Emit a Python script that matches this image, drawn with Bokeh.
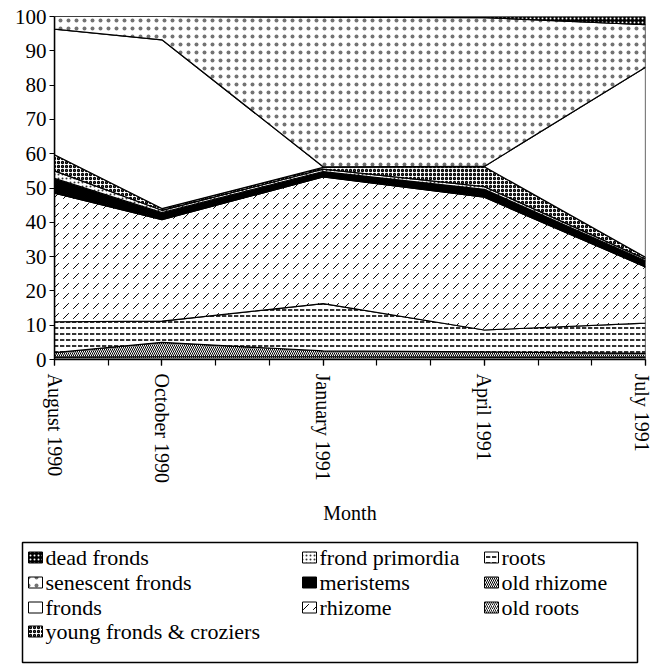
import numpy as np
from bokeh.plotting import figure
from bokeh.models import Range1d, FixedTicker, Label
from bokeh.embed import file_html
from bokeh.resources import INLINE

# ---- data ----
months = [0, 2, 5, 8, 11]          # months after August 1990
month_labels = ["August 1990", "October 1990", "January 1991", "April 1991", "July 1991"]
all_months = list(range(12))
y_ticks = list(range(0, 101, 10))

old_roots       = [0.7, 0.8, 0.8, 0.7, 0.7]
old_rhizome     = [1.3, 4.2, 1.7, 1.5, 1.1]
roots           = [9.0, 6.2, 13.8, 6.4, 8.8]
rhizome         = [37.5, 29.6, 36.9, 38.7, 16.4]
meristems       = [4.3, 2.0, 1.6, 2.3, 1.8]
frond_primordia = [2.2, 0.7, 0.7, 0.8, 0.5]
young_fronds    = [4.7, 0.5, 0.5, 5.8, 0.5]
fronds          = [36.6, 49.2, 0.2, 0.1, 55.4]
senescent       = [3.7, 6.8, 43.6, 43.4, 12.4]
dead_fronds     = [0.0, 0.0, 0.2, 0.3, 2.4]

stack_names = ["old roots", "old rhizome", "roots", "rhizome", "meristems",
               "frond primordia", "young fronds & croziers", "fronds",
               "senescent fronds", "dead fronds"]
stack_values = [old_roots, old_rhizome, roots, rhizome, meristems,
                frond_primordia, young_fronds, fronds, senescent, dead_fronds]

legend_columns = [
    ["dead fronds", "senescent fronds", "fronds", "young fronds & croziers"],
    ["frond primordia", "meristems", "rhizome"],
    ["roots", "old rhizome", "old roots"],
]

# ---- styles ----
styles = {
    "old roots":   dict(fill_color="white", hatch_pattern="right_diagonal_line", hatch_color="black", hatch_scale=4, hatch_weight=0.9),
    "old rhizome": dict(fill_color="white", hatch_pattern="left_diagonal_line", hatch_color="black", hatch_scale=4, hatch_weight=1.0),
    "roots":       dict(fill_color="white", hatch_pattern="horizontal_dash", hatch_color="black", hatch_scale=6, hatch_weight=1.6),
    "rhizome":     dict(fill_color="white", hatch_pattern="right_diagonal_dash", hatch_color="black", hatch_scale=10, hatch_weight=1.0),
    "meristems":   dict(fill_color="black"),
    "frond primordia": dict(fill_color="white", hatch_pattern="dot", hatch_color="black", hatch_scale=4, hatch_weight=0.8, hatch_alpha=0.8),
    "young fronds & croziers": dict(fill_color="white", hatch_pattern="ring", hatch_color="black", hatch_scale=4, hatch_weight=1.3),
    "fronds":      dict(fill_color="white"),
    "senescent fronds": dict(fill_color="white", hatch_pattern="dot", hatch_color="black", hatch_scale=8, hatch_weight=0.8, hatch_alpha=0.55),
    "dead fronds": dict(fill_color="black", hatch_pattern="dot", hatch_color="white", hatch_scale=4, hatch_weight=1.2),
}

FONT = "Liberation Serif"

p = figure(width=652, height=541, x_range=Range1d(0, 11), y_range=Range1d(0, 100),
           output_backend="svg", toolbar_location=None,
           min_border_left=54, min_border_right=7, min_border_top=16, min_border_bottom=182)
p.outline_line_color = None
p.grid.visible = False

base = np.zeros(len(months))
for name, vals in zip(stack_names, stack_values):
    top = base + np.array(vals)
    xs = list(months) + list(months[::-1])
    ys = list(top) + list(base[::-1])
    p.patch(xs, ys, line_color="black", line_width=1.2, line_join="round", **styles[name])
    base = top

# axes
xa = p.xaxis[0]
xa.ticker = FixedTicker(ticks=months, minor_ticks=all_months)
xa.major_label_overrides = {m: lab for m, lab in zip(months, month_labels)}
xa.major_label_orientation = -np.pi / 2
xa.axis_label = "Month"
ya = p.yaxis[0]
ya.ticker = FixedTicker(ticks=y_ticks)
for ax in (xa, ya):
    ax.axis_line_color = "black"
    ax.axis_line_width = 1.5
    ax.major_tick_line_color = "black"
    ax.minor_tick_line_color = "black"
    ax.major_tick_line_width = 1.2
    ax.minor_tick_line_width = 1.2
    ax.major_label_text_font = FONT
    ax.major_label_text_color = "black"
    ax.axis_label_text_font = FONT
    ax.axis_label_text_font_size = "20px"
    ax.axis_label_text_font_style = "normal"
    ax.axis_label_text_color = "black"
xa.major_label_text_font_size = "20px"
ya.major_label_text_font_size = "21px"
xa.major_tick_in = 0
xa.major_tick_out = 6
xa.minor_tick_in = 0
xa.minor_tick_out = 6
xa.major_label_standoff = 8
xa.axis_label_standoff = 16
ya.major_tick_in = 0
ya.major_tick_out = 5
ya.minor_tick_out = 0
ya.minor_tick_in = 0
ya.major_label_standoff = 3

# ---- legend panel (separate root, frame = legend box) ----
LW, LH = 615, 120
lg = figure(width=652, height=125, x_range=Range1d(0, LW), y_range=Range1d(LH, 0),
            output_backend="svg", toolbar_location=None,
            x_axis_location=None, y_axis_location=None,
            min_border_left=22, min_border_right=15, min_border_top=1, min_border_bottom=4)
lg.grid.visible = False
lg.outline_line_color = "black"
lg.outline_line_width = 1.5

col_x = [6, 280, 462]
row_y = [15, 40, 65, 89]
for cx, names in zip(col_x, legend_columns):
    for ry, name in zip(row_y, names):
        lg.rect(x=[cx + 7], y=[ry], width=14, height=11, line_color="black", line_width=1,
                **styles[name])
        lg.add_layout(Label(x=cx + 17, y=ry, text=name, text_font=FONT, text_font_size="22px",
                            text_baseline="middle", text_align="left", text_color="black"))

open("out.html", "w").write(file_html([p, lg], INLINE))
